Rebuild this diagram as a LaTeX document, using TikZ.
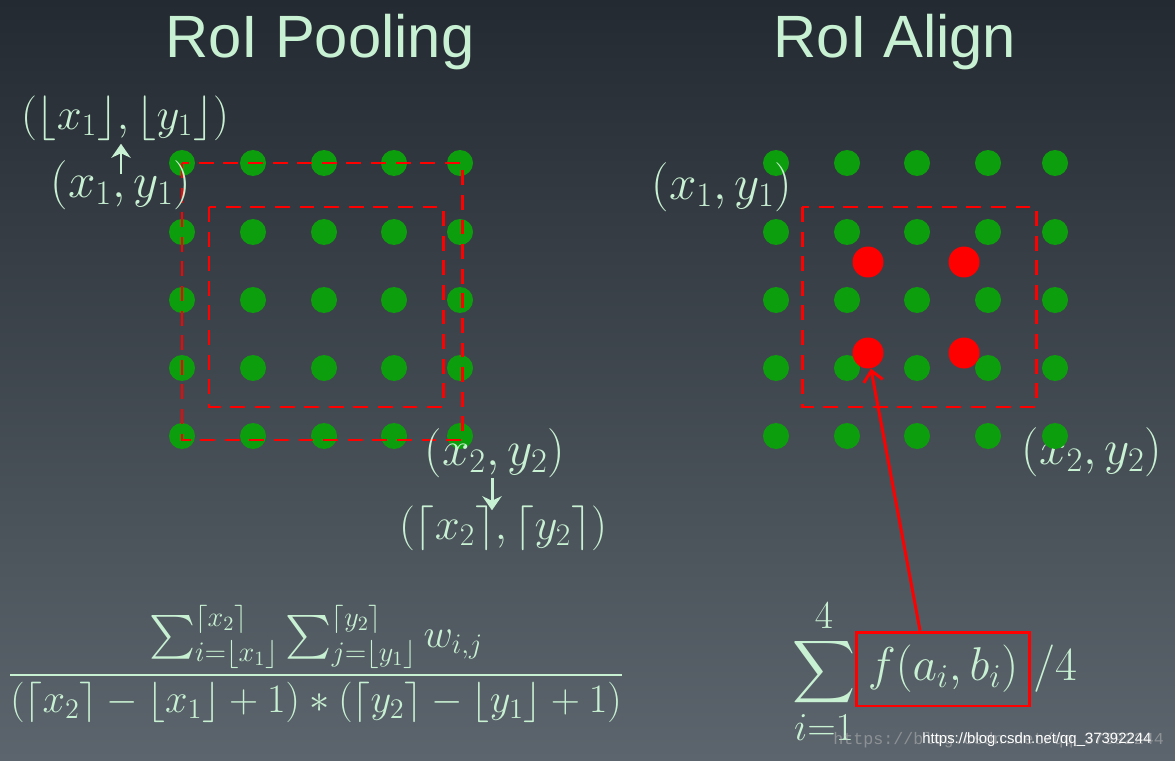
\RequirePackage{fix-cm}
\documentclass[tikz,border=0pt]{standalone}
\usepackage{amsmath}
\usepackage{fontspec}
\usepackage{tikz}
\usetikzlibrary{arrows.meta}
\newfontfamily\slidesans{Liberation Sans}
\newfontfamily\slidemono{Liberation Mono}
\definecolor{RABgTop}{HTML}{242A31}
\definecolor{RABgMid}{HTML}{2D343C}
\definecolor{RABgBot}{HTML}{5C656D}
\definecolor{RAMint}{HTML}{C8F0D2}
\definecolor{RAGreen}{HTML}{0D9E0D}
\definecolor{RARed}{HTML}{FF0000}
\tikzset{
  gdot/.style={circle,fill=RAGreen,inner sep=0pt,minimum size=0.52cm},
  rdot/.style={circle,fill=RARed,inner sep=0pt,minimum size=0.62cm},
  mathlab/.style={text=RAMint,inner sep=0pt,font=\fontsize{28}{32}\selectfont},
  bracklab/.style={mathlab,font=\fontsize{25.5}{30}\selectfont},
  slidetitle/.style={text=RAMint,inner sep=0pt,anchor=base,font=\slidesans\fontsize{34}{40}\selectfont},
  roibox/.style={draw=RARed,line width=1.7pt,dash pattern=on 8.5pt off 5.5pt},
  labarrow/.style={draw=RAMint,line width=1.7pt,-{Stealth[length=8pt,width=11pt]}},
  redarrow/.style={draw=RARed,line width=1.7pt,-{Straight Barb[length=6pt,width=11pt]}},
}
\begin{document}
\begin{tikzpicture}[x=0.02cm,y=-0.02cm]
\shade[top color=RABgTop,middle color=RABgMid,bottom color=RABgBot] (0,0) rectangle (1175,760);
\path[use as bounding box] (0,0) rectangle (1175,760);

\node[slidetitle] (titlepool) at (320,58) {RoI Pooling};
\node[slidetitle] (titlealign) at (895,58) {RoI Align};

\foreach \r/\y in {1/163,2/232,3/300,4/368,5/436}
  \foreach \c/\x in {1/182,2/253,3/324,4/394,5/460}
    \node[gdot] (p\r\c) at (\x,\y) {};
\draw[roibox] (182,163) rectangle (462,440);
\draw[roibox] (209,207) rectangle (443,407);

\node[bracklab] (pfloor) at (125,118) {$(\lfloor x_1\rfloor,\lfloor y_1\rfloor)$};
\node[mathlab] (porig1) at (121,185) {$(x_1,y_1)$};
\node[mathlab] (porig2) at (495,453) {$(x_2,y_2)$};
\node[bracklab] (pceil) at (503,528) {$(\lceil x_2\rceil,\lceil y_2\rceil)$};
\draw[labarrow] ([yshift=-0.28cm]porig1.north) -- ([yshift=-0.06cm]porig1.north |- pfloor.south);
\draw[labarrow] ([xshift=-0.06cm]porig2.south) -- ([xshift=-0.06cm,yshift=-0.1cm]porig2.south |- pceil.north);

\node[mathlab,font=\fontsize{23}{28}\selectfont] (pformula) at (316,664) {$\displaystyle\frac{\sum_{i=\lfloor x_1\rfloor}^{\lceil x_2\rceil}\sum_{j=\lfloor y_1\rfloor}^{\lceil y_2\rceil} w_{i,j}}{(\lceil x_2\rceil-\lfloor x_1\rfloor+1)\ast(\lceil y_2\rceil-\lfloor y_1\rfloor+1)}$};

\node[mathlab] (aorig2) at (1092,452) {$(x_2,y_2)$};
\foreach \r/\y in {1/163,2/232,3/300,4/368,5/436}
  \foreach \c/\x in {1/776,2/847,3/917,4/988,5/1055}
    \node[gdot] (a\r\c) at (\x,\y) {};
\draw[roibox] (802,207) rectangle (1036,407);
\node[rdot] (s1) at (868,262) {};
\node[rdot] (s2) at (964,262) {};
\node[rdot] (s3) at (868,353) {};
\node[rdot] (s4) at (964,353) {};
\node[mathlab] (aorig1) at (722,187) {$(x_1,y_1)$};

\node[mathlab,font=\fontsize{45}{50}\selectfont] (asum) at (824,672) {$\displaystyle\sum_{\scriptscriptstyle i=1}^{\scriptscriptstyle 4}$};
\node[mathlab,draw=RARed,line width=1.7pt,minimum width=3.46cm,minimum height=1.48cm,font=\fontsize{27}{32}\selectfont] (fbox) at (943,669) {$f(a_i,b_i)$};
\node[mathlab,anchor=west,font=\fontsize{27}{32}\selectfont] (fdiv) at ([xshift=0.04cm]fbox.east) {$/4$};
\draw[redarrow] ([xshift=-0.46cm]fbox.north) -- (s3);

\node[anchor=west,inner sep=0pt,text=gray!50,opacity=0.5,font=\slidemono\fontsize{9.5}{12}\selectfont] (wmgrey) at (833,740) {https://blog.csdn.net/qq\_37392244};
\node[anchor=west,inner sep=0pt,text=white,font=\slidesans\fontsize{8.5}{10}\selectfont] (wmlink) at (922,740) {https://blog.csdn.net/qq\_37392244};
\end{tikzpicture}
\end{document}
